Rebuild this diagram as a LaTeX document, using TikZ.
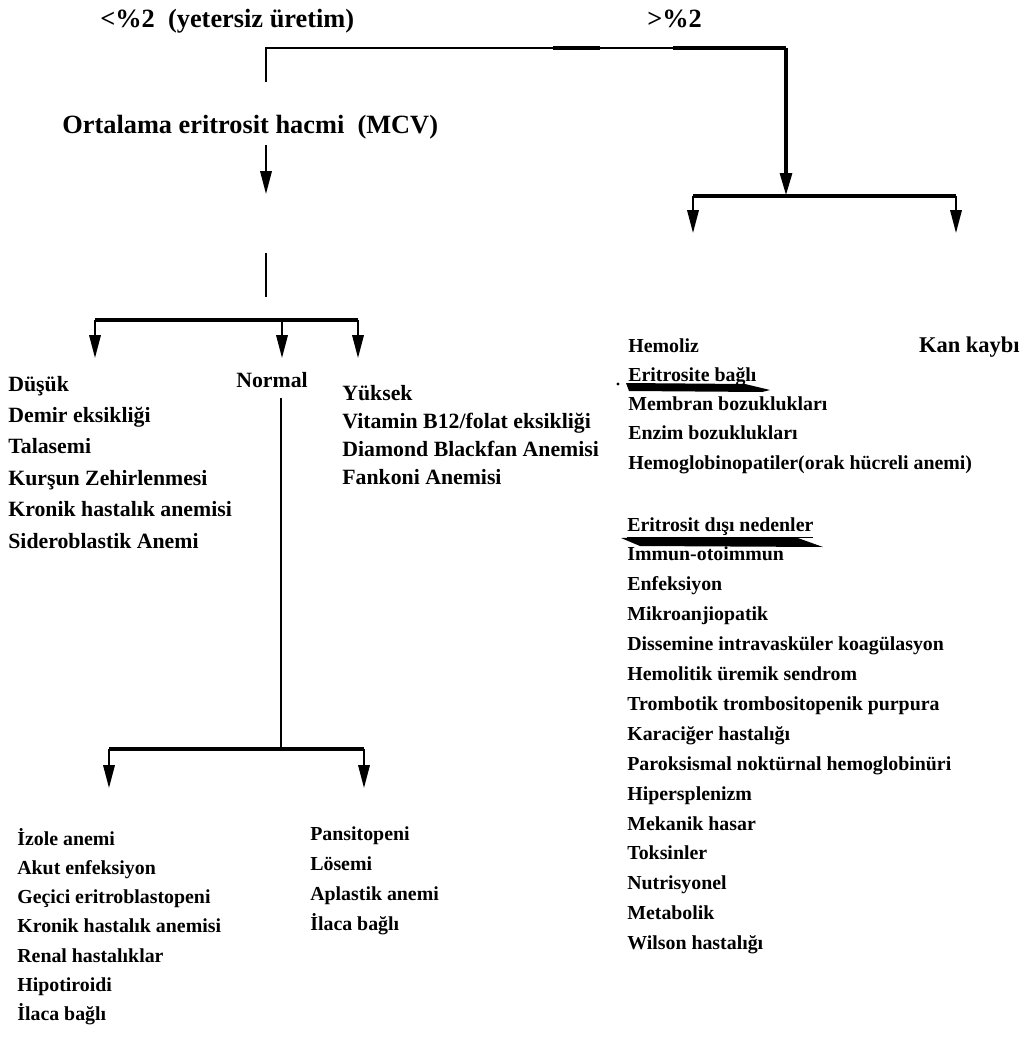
\documentclass[tikz,border=0pt]{standalone}
\usepackage{fontspec}
\setmainfont{Liberation Serif}
\usetikzlibrary{arrows.meta}

\begin{document}
\begin{tikzpicture}[x=0.02cm,y=-0.02cm,
    ttl/.style={font=\fontsize{15}{18}\selectfont\bfseries,inner sep=0pt,anchor=base west},
    lbl/.style={font=\fontsize{11.3}{14}\selectfont\bfseries,inner sep=0pt,anchor=base west},
    lblbig/.style={lbl,font=\fontsize{12.4}{15}\selectfont\bfseries},
    bar/.style={line width=1.8pt},
    stem/.style={line width=1.1pt,-{Triangle[length=13pt,width=6.5pt]}}]
  \useasboundingbox (0,0) rectangle (1027,1037);

  % retikulosit
  \node[ttl] (low) at (100,28) {<\%2\ \ (yetersiz üretim)};
  \node[ttl] (high) at (647,28) {>\%2};
  \coordinate (tl) at (266,48);
  \coordinate (tr) at (786,48);
  \coordinate (mcvin) at (266,82);
  \coordinate (rj) at (786,196);
  \draw[line width=1.3pt] (mcvin) -- (tl) -- (tr);
  \draw[line width=2.4pt] (553,48) -- (600,48) (673,48) -- (tr);
  \draw[stem,line width=2.4pt] (tr) -- (rj);

  % MCV
  \node[ttl] (mcv) at (62,134) {Ortalama eritrosit hacmi\ \ (MCV)};
  \coordinate (mcvout) at (266,145);
  \coordinate (mcvtip) at (266,194);
  \draw[stem] (mcvout) -- (mcvtip);
  \coordinate (gapa) at (266,253);
  \coordinate (gapb) at (266,297);
  \draw[line width=1.1pt] (gapa) -- (gapb);

  % dusuk / normal / yuksek
  \coordinate (bl) at (95,320);
  \coordinate (bm) at (282,320);
  \coordinate (br) at (358,320);
  \draw[bar] (bl) -- (br);
  \foreach \c in {bl,bm,br} \draw[stem] (\c) -- ++(0,38);

  \foreach \t [count=\i from 0] in {Düşük,Demir eksikliği,Talasemi,Kurşun Zehirlenmesi,
      Kronik hastalık anemisi,Sideroblastik Anemi}
    \node[lblbig] (dus\i) at (8,{391+31.4*\i}) {\t};
  \node[lblbig] (normal) at (236,387) {Normal};
  \foreach \t [count=\i from 0] in {Yüksek,Vitamin B12/folat eksikliği,
      Diamond Blackfan Anemisi,Fankoni Anemisi}
    \node[lblbig] (yuk\i) at (342,{400+28.3*\i}) {\t};

  % normal
  \coordinate (nv) at (281,398);
  \coordinate (nb) at (281,749);
  \draw[line width=1pt] (nv) -- (nb);
  \coordinate (cl) at (109,749);
  \coordinate (cr) at (364,749);
  \draw[bar] (cl) -- (cr);
  \foreach \c in {cl,cr} \draw[stem] (\c) -- ++(0,39);

  \foreach \t [count=\i from 0] in {İzole anemi,Akut enfeksiyon,Geçici eritroblastopeni,
      Kronik hastalık anemisi,Renal hastalıklar,Hipotiroidi,İlaca bağlı}
    \node[lbl] (izo\i) at (17,{845+29.3*\i}) {\t};
  \foreach \t [count=\i from 0] in {Pansitopeni,Lösemi,Aplastik anemi,İlaca bağlı}
    \node[lbl] (pan\i) at (310,{840+30*\i}) {\t};

  % hemoliz / kan kaybi
  \coordinate (hl) at (693,196);
  \coordinate (hr) at (956,196);
  \draw[bar] (hl) -- (hr);
  \foreach \c in {hl,hr} \draw[stem] (\c) -- ++(0,37);

  \foreach \t [count=\i from 0] in {Hemoliz,\underline{Eritrosite bağlı},Membran bozuklukları,
      Enzim bozuklukları,Hemoglobinopatiler(orak hücreli anemi)}
    \node[lbl] (hem\i) at (628,{352+29.3*\i}) {\t};
  \node[lblbig,anchor=base east,font=\fontsize{12.8}{15}\selectfont\bfseries] (kan) at (1020,352) {Kan kaybı};

  \foreach \t [count=\i from 0] in {\underline{Eritrosit dışı nedenler},Immun-otoimmun,
      Enfeksiyon,Mikroanjiopatik,Dissemine intravasküler koagülasyon,
      Hemolitik üremik sendrom,Trombotik trombositopenik purpura,Karaciğer hastalığı,
      Paroksismal noktürnal hemoglobinüri,Hipersplenizm,Mekanik hasar,Toksinler,
      Nutrisyonel,Metabolik,Wilson hastalığı}
    \node[lbl] (dis\i) at (627,{531+29.9*\i}) {\t};

  % black marks
  \fill (618,384) circle (0.9pt);
  \fill (626,383) -- (745,384) -- (770,390) -- (762,392) -- (629,391) -- cycle;
  \fill (621,538) -- (795,537) -- (823,547) -- (640,546) -- cycle;
\end{tikzpicture}
\end{document}
